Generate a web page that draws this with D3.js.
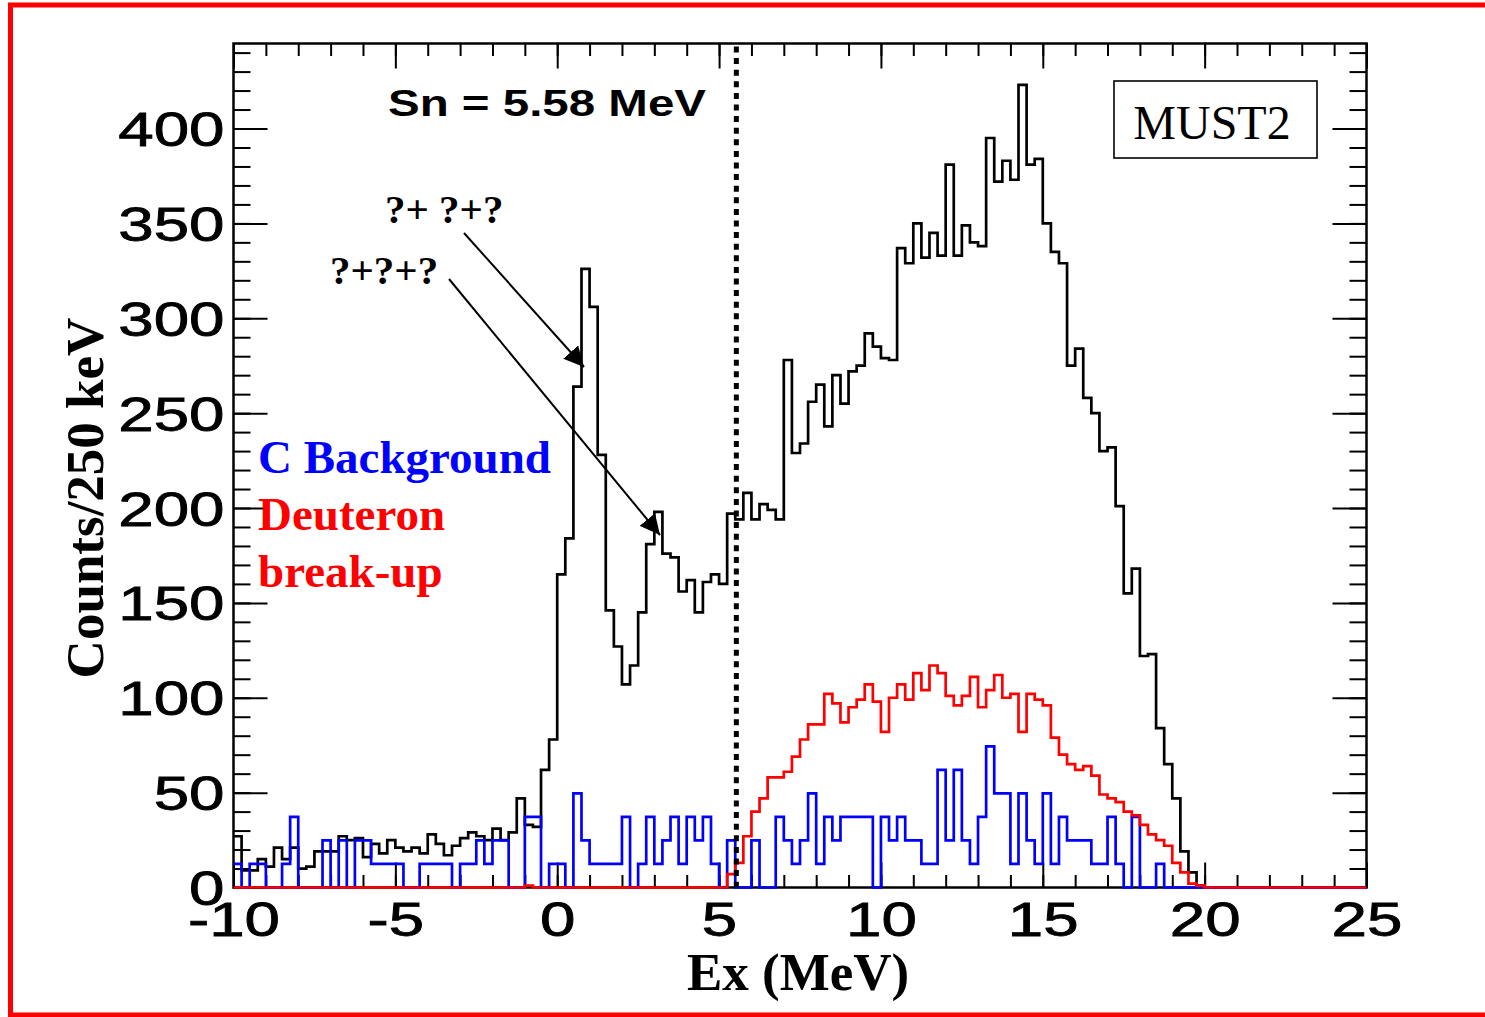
<!DOCTYPE html>
<html><head><meta charset="utf-8">
<script src="https://cdn.jsdelivr.net/npm/d3@7"></script>
<style>
  body { margin: 0; background: #fff; }
  svg { display: block; }
</style>
</head><body>
<svg id="chart" width="1485" height="1017"></svg>
<script>
// Excitation-energy spectrum, 250 keV bins starting at -10 MeV
const binStart = -10;
const binWidth = 0.25;

// Total counts per bin
const totalCounts = [
  27, 9, 9, 15, 11, 21, 15, 21, 10, 11,
  19, 19, 19, 27, 25, 26, 16, 23, 18, 25,
  21, 19, 21, 18, 28, 23, 17, 22, 26, 29,
  27, 25, 31, 25, 29, 47, 33, 32, 62, 78,
  165, 184, 264, 326, 306, 228, 146, 127, 107, 117,
  145, 181, 198, 176, 174, 156, 162, 145, 161, 165,
  160, 197, 194, 208, 194, 202, 199, 194, 278, 229,
  234, 256, 265, 243, 270, 255, 272, 275, 292, 285,
  279, 278, 337, 329, 350, 332, 345, 333, 381, 333,
  349, 340, 338, 395, 372, 383, 373, 423, 381, 384,
  350, 335, 329, 275, 284, 258, 250, 230, 232, 201,
  155, 168, 122, 123, 84, 65, 47, 19, 8, 1,
  0, 0, 0, 0, 0, 0, 0, 0, 0, 0,
  0, 0, 0, 0, 0, 0, 0, 0, 0, 0
];

// Carbon-target background (normalised)
const carbonBackground = [
  12.4, 0, 12.4, 12.4, 0, 0, 12.4, 37.2, 0, 0,
  0, 24.8, 0, 24.8, 0, 24.8, 24.8, 12.4, 12.4, 12.4,
  12.4, 0, 0, 12.4, 12.4, 12.4, 12.4, 0, 12.4, 12.4,
  24.8, 12.4, 24.8, 24.8, 0, 0, 37.2, 37.2, 0, 12.4,
  12.4, 0, 49.6, 24.8, 12.4, 12.4, 12.4, 12.4, 37.2, 0,
  12.4, 37.2, 12.4, 24.8, 37.2, 12.4, 37.2, 24.8, 37.2, 12.4,
  0, 24.8, 0, 0, 24.8, 0, 0, 37.2, 24.8, 12.4,
  24.8, 49.6, 12.4, 37.2, 24.8, 37.2, 37.2, 37.2, 37.2, 0,
  37.2, 24.8, 37.2, 24.8, 24.8, 12.4, 12.4, 62, 24.8, 62,
  24.8, 12.4, 37.2, 74.4, 49.6, 49.6, 12.4, 49.6, 24.8, 12.4,
  49.6, 12.4, 37.2, 24.8, 24.8, 24.8, 12.4, 12.4, 37.2, 12.4,
  0, 37.2, 0, 0, 12.4, 0, 0, 0, 0, 0,
  0, 0, 0, 0, 0, 0, 0, 0, 0, 0,
  0, 0, 0, 0, 0, 0, 0, 0, 0, 0
];

// Deuteron break-up contribution
const deuteronBreakup = [
  0, 0, 0, 0, 0, 0, 0, 0, 0, 0,
  0, 0, 0, 0, 0, 0, 0, 0, 0, 0,
  0, 0, 0, 0, 0, 0, 0, 0, 0, 0,
  0, 0, 0, 0, 0, 0, 1, 0, 0, 0,
  0, 0, 0, 0, 0, 0, 0, 0, 0, 0,
  0, 0, 0, 0, 0, 0, 0, 0, 0, 0,
  0, 7, 13, 27, 40, 47, 58, 58, 61, 69,
  78, 86, 86, 102, 97, 87, 95, 99, 107, 98,
  82, 100, 107, 99, 113, 104, 117, 113, 101, 96,
  101, 111, 95, 104, 112, 100, 102, 82, 102, 99,
  96, 79, 70, 65, 62, 64, 59, 49, 47, 45,
  40, 38, 33, 28, 25, 22, 13, 8, 2, 1,
  0, 0, 0, 0, 0, 0, 0, 0, 0, 0,
  0, 0, 0, 0, 0, 0, 0, 0, 0, 0
];

const xMajorTicks = [-10, -5, 0, 5, 10, 15, 20, 25];
const xMinorTicks = d3.range(-10, 25.001, 1);
const yMajorTicks = [0, 50, 100, 150, 200, 250, 300, 350, 400];
const yMinorTicks = d3.range(0, 441, 10);
const separationEnergy = 5.58;

const legendLines = [
  { text: "C Background", color: "#0000ff" },
  { text: "Deuteron", color: "#ff0000" },
  { text: "break-up", color: "#ff0000" }
];

const svg = d3.select("#chart");
const plot = { left: 233.5, right: 1366.5, top: 43.5, bottom: 887.5 };

const x = d3.scaleLinear().domain([-10, 25]).range([plot.left, plot.right]);
const y = d3.scaleLinear().domain([0, 444.8]).range([plot.bottom, plot.top]);

const SANS = "'Liberation Sans', Arial, sans-serif";
const SERIF = "'Liberation Serif', 'Times New Roman', serif";

// widen glyphs horizontally (wide axis font)
function stretch(sel, factor) {
  sel.each(function () {
    const w = this.getComputedTextLength();
    d3.select(this).attr("textLength", w * factor).attr("lengthAdjust", "spacingAndGlyphs");
  });
}

// outer page border
svg.append("rect")
  .attr("x", 10.5).attr("y", 5).attr("width", 1490).attr("height", 1010)
  .attr("fill", "none").attr("stroke", "#ff0000").attr("stroke-width", 5);

// plot frame
svg.append("rect")
  .attr("x", plot.left).attr("y", plot.top)
  .attr("width", plot.right - plot.left).attr("height", plot.bottom - plot.top)
  .attr("fill", "none").attr("stroke", "#000").attr("stroke-width", 2.5);

const plotH = plot.bottom - plot.top;
const plotW = plot.right - plot.left;
const xTickMaj = 25, xTickMin = 12.5, yTickMaj = 34, yTickMin = 17;

function tickAxis(axis, transform) {
  const g = svg.append("g").attr("transform", transform).call(axis);
  g.select(".domain").remove();
  g.selectAll(".tick line").attr("stroke", "#000").attr("stroke-width", 2);
  return g;
}

// minor ticks on all four sides
tickAxis(d3.axisBottom(x).tickValues(xMinorTicks).tickSize(-xTickMin).tickFormat(""), `translate(0,${plot.bottom})`);
tickAxis(d3.axisTop(x).tickValues(xMinorTicks).tickSize(-xTickMin).tickFormat(""), `translate(0,${plot.top})`);
tickAxis(d3.axisLeft(y).tickValues(yMinorTicks).tickSize(-yTickMin).tickFormat(""), `translate(${plot.left},0)`);
tickAxis(d3.axisRight(y).tickValues(yMinorTicks).tickSize(-yTickMin).tickFormat(""), `translate(${plot.right},0)`);

// major ticks
const xAxisG = tickAxis(d3.axisBottom(x).tickValues(xMajorTicks).tickSize(-xTickMaj).tickFormat(d3.format("d")), `translate(0,${plot.bottom})`);
tickAxis(d3.axisTop(x).tickValues(xMajorTicks).tickSize(-xTickMaj).tickFormat(""), `translate(0,${plot.top})`);
const yAxisG = tickAxis(d3.axisLeft(y).tickValues(yMajorTicks).tickSize(-yTickMaj).tickFormat(d3.format("d")), `translate(${plot.left},0)`);
tickAxis(d3.axisRight(y).tickValues(yMajorTicks).tickSize(-yTickMaj).tickFormat(""), `translate(${plot.right},0)`);

xAxisG.selectAll(".tick text")
  .attr("y", 48).attr("dy", null)
  .attr("font-family", SANS).attr("font-size", 49)
  .attr("fill", "#000").attr("stroke", "#000").attr("stroke-width", 0.8)
  .text(d => d < 0 ? "-" + Math.abs(d) : d)
  .call(stretch, 1.3);

yAxisG.selectAll(".tick text")
  .attr("x", -9).attr("dy", 17)
  .attr("font-family", SANS).attr("font-size", 49)
  .attr("fill", "#000").attr("stroke", "#000").attr("stroke-width", 0.8)
  .call(stretch, 1.3);

// histograms
function stepPath(values) {
  const pts = values.map((v, i) => [binStart + i * binWidth, v]);
  pts.push([binStart + values.length * binWidth, values[values.length - 1]]);
  return d3.line().x(d => x(d[0])).y(d => y(d[1])).curve(d3.curveStepAfter)(pts);
}

svg.append("clipPath").attr("id", "plotClip").append("rect")
  .attr("x", plot.left).attr("y", plot.top - 2).attr("width", plotW).attr("height", plotH + 4);

const hist = svg.append("g").attr("clip-path", "url(#plotClip)");
[[totalCounts, "#000000"], [carbonBackground, "#0000ff"], [deuteronBreakup, "#ff0000"]]
  .forEach(([vals, col]) => {
    hist.append("path").attr("d", stepPath(vals))
      .attr("fill", "none").attr("stroke", col).attr("stroke-width", 2.7)
      .attr("stroke-linejoin", "miter");
  });

// neutron separation energy marker
svg.append("line")
  .attr("x1", x(separationEnergy) - 1.5).attr("x2", x(separationEnergy) - 1.5)
  .attr("y1", plot.top + 3).attr("y2", plot.bottom)
  .attr("stroke", "#000").attr("stroke-width", 5).attr("stroke-dasharray", "6,5.6");

svg.append("text")
  .attr("x", 388).attr("y", 116)
  .attr("font-family", SANS).attr("font-weight", "bold").attr("font-size", 36)
  .attr("textLength", 318).attr("lengthAdjust", "spacingAndGlyphs")
  .text("Sn = 5.58 MeV");

// detector label
svg.append("rect")
  .attr("x", 1114).attr("y", 81).attr("width", 203).attr("height", 77)
  .attr("fill", "#fff").attr("stroke", "#000").attr("stroke-width", 1.6);
svg.append("text")
  .attr("x", 1212).attr("y", 139).attr("text-anchor", "middle")
  .attr("font-family", SERIF).attr("font-size", 48)
  .text("MUST2");

// legend
svg.selectAll("text.legend").data(legendLines).join("text")
  .attr("class", "legend")
  .attr("x", 258).attr("y", (d, i) => 473 + i * 57)
  .attr("font-family", SERIF).attr("font-weight", "bold").attr("font-size", 47)
  .attr("fill", d => d.color)
  .text(d => d.text);

// peak annotations with arrows
const defs = svg.append("defs");
defs.append("marker").attr("id", "arrowHead")
  .attr("viewBox", "0 0 10 10").attr("refX", 10).attr("refY", 5)
  .attr("markerWidth", 20).attr("markerHeight", 20).attr("markerUnits", "userSpaceOnUse")
  .attr("orient", "auto")
  .append("path").attr("d", "M0,0 L10,5 L0,10 Z").attr("fill", "#000");

const annotations = [
  { text: "?+ ?+?", tx: 385, ty: 223, from: [464, 233], to: [584, 367] },
  { text: "?+?+?", tx: 330, ty: 284, from: [449, 279], to: [660, 535] }
];
annotations.forEach(a => {
  svg.append("text").attr("x", a.tx).attr("y", a.ty)
    .attr("font-family", SERIF).attr("font-weight", "bold").attr("font-size", 41)
    .text(a.text);
  svg.append("line")
    .attr("x1", a.from[0]).attr("y1", a.from[1]).attr("x2", a.to[0]).attr("y2", a.to[1])
    .attr("stroke", "#000").attr("stroke-width", 2)
    .attr("marker-end", "url(#arrowHead)");
});

// axis titles
svg.append("text")
  .attr("x", 798).attr("y", 990).attr("text-anchor", "middle")
  .attr("font-family", SERIF).attr("font-weight", "bold").attr("font-size", 53)
  .text("Ex (MeV)");
svg.append("text")
  .attr("transform", "translate(103,498) rotate(-90)").attr("text-anchor", "middle")
  .attr("font-family", SERIF).attr("font-weight", "bold").attr("font-size", 53)
  .text("Counts/250 keV");
</script>
</body></html>
